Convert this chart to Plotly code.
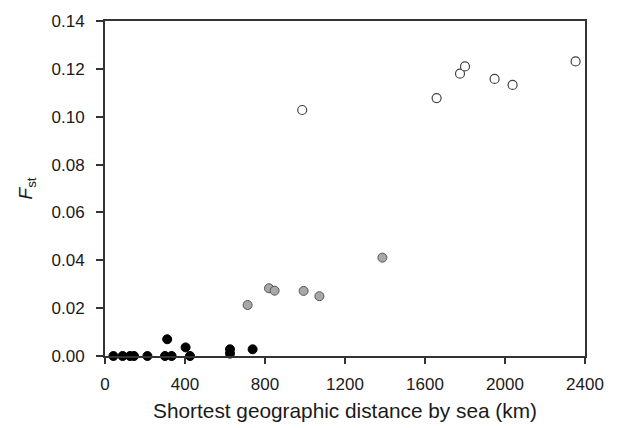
import plotly.graph_objects as go

# Black (filled) points
black_x = [42, 88, 125, 145, 212, 300, 311, 333, 403, 425, 625, 625, 738]
black_y = [0.0, 0.0, 0.0, 0.0, 0.0, 0.0, 0.007, 0.0, 0.0036, 0.0, 0.0028, 0.001, 0.0028]

# Grey points
grey_x = [713, 820, 848, 993, 1072, 1387]
grey_y = [0.0213, 0.0283, 0.0273, 0.0272, 0.0250, 0.0411]

# Open (white) points
open_x = [986, 1658, 1775, 1800, 1948, 2038, 2353]
open_y = [0.1028, 0.1078, 0.1180, 0.1210, 0.1158, 0.1133, 0.1231]

x_ticks = [0, 400, 800, 1200, 1600, 2000, 2400]
y_ticks = [0.00, 0.02, 0.04, 0.06, 0.08, 0.10, 0.12, 0.14]

fig = go.Figure()
fig.add_trace(go.Scatter(x=black_x, y=black_y, mode="markers", cliponaxis=False,
                         marker=dict(size=9, color="#000000", line=dict(color="#000000", width=1))))
fig.add_trace(go.Scatter(x=grey_x, y=grey_y, mode="markers", cliponaxis=False,
                         marker=dict(size=9, color="#a8a8a8", line=dict(color="#555555", width=1))))
fig.add_trace(go.Scatter(x=open_x, y=open_y, mode="markers", cliponaxis=False,
                         marker=dict(size=9, color="#ffffff", line=dict(color="#444444", width=1.2))))

# the page body adds an 8px offset, so the figure is sized to fit the window
fig.update_layout(
    width=609, height=420,
    margin=dict(l=97, r=32, t=13, b=72),
    paper_bgcolor="white", plot_bgcolor="white",
    showlegend=False,
    font=dict(family="Liberation Sans, Arial, sans-serif", color="#1a1a1a", size=17),
)
fig.update_xaxes(
    range=[0, 2400], tickvals=x_ticks, ticktext=[str(v) for v in x_ticks],
    showgrid=False, zeroline=False, showline=True, linecolor="#333333", linewidth=2,
    mirror=True, ticks="outside", ticklen=6, tickwidth=1.5, tickcolor="#333333",
    tickfont=dict(size=17), ticklabelstandoff=6, automargin=False,
    title=dict(text="Shortest geographic distance by sea (km)", font=dict(size=20.8), standoff=10),
)
fig.update_yaxes(
    range=[0, 0.14], tickvals=y_ticks, ticktext=[f"{v:.2f}" for v in y_ticks],
    showgrid=False, zeroline=False, showline=True, linecolor="#333333", linewidth=2,
    mirror=True, ticks="outside", ticklen=7, tickwidth=1.5, tickcolor="#333333",
    tickfont=dict(size=17), ticklabelstandoff=8, automargin=False,
    title=dict(text="<i>F</i><sub>st</sub>", font=dict(size=19), standoff=14),
)

fig.write_html("out.html")
